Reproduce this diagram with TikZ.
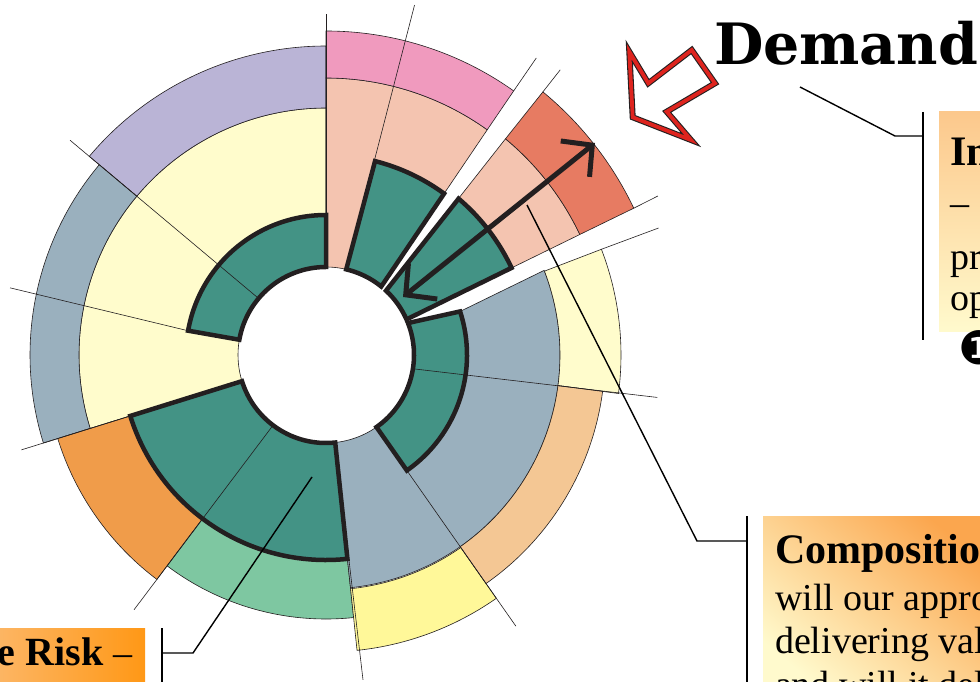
\documentclass[tikz,border=0pt]{standalone}
\usepackage{fontspec}
\setmainfont{Liberation Serif}
\newfontfamily\titlefont{DejaVu Serif}
\newfontfamily\dingfont{DejaVu Sans}
\usetikzlibrary{arrows.meta,positioning,calc}

\definecolor{ink}{RGB}{35,31,32}
\definecolor{tealseg}{RGB}{67,147,133}
\definecolor{salmonseg}{RGB}{244,196,176}
\definecolor{pinkseg}{RGB}{240,154,190}
\definecolor{redseg}{RGB}{231,123,98}
\definecolor{paleseg}{RGB}{255,252,204}
\definecolor{lilacseg}{RGB}{186,180,214}
\definecolor{slateseg}{RGB}{154,176,190}
\definecolor{peachseg}{RGB}{244,199,148}
\definecolor{lemonseg}{RGB}{255,248,153}
\definecolor{mintseg}{RGB}{126,199,161}
\definecolor{orangeseg}{RGB}{240,156,74}
\definecolor{arrowred}{RGB}{222,36,30}
\definecolor{boxtop}{RGB}{252,200,140}
\definecolor{boxpale}{RGB}{255,250,205}
\definecolor{boxorange}{RGB}{251,166,78}
\definecolor{riskorange}{RGB}{255,152,22}
\definecolor{risklight}{RGB}{252,186,112}

\newcommand{\boxhead}{\fontsize{42}{48}\selectfont\bfseries}
\newcommand{\boxbody}{\fontsize{38}{44}\selectfont}

% ring cell: inner angles #1,#2 at radius #3, outer angles #4,#5 at radius #6
\newcommand{\ringcell}[7]{%
	\filldraw[#7] (#1:#3) arc[start angle=#1, end angle=#2, radius=#3]
	-- (#5:#6) arc[start angle=#5, end angle=#4, radius=#6] -- cycle;}

\begin{document}
\begin{tikzpicture}[
		x=1pt,y=1pt,
		every node/.style={inner sep=0pt, outer sep=0pt},
		cell/.style={draw=ink, line width=0.6pt},
		tealcell/.style={fill=tealseg, draw=ink, line width=4.5pt, line join=miter},
		spoke/.style={draw=ink, line width=0.6pt},
		leader/.style={draw=black, line width=1.4pt},
		headtext/.style={font=\boxhead, anchor=base west},
		bodytext/.style={font=\boxbody, anchor=base west}
		]
		
		\useasboundingbox (0,0) rectangle (980,681);
		\fill[white] (0,0) rectangle (980,681);
		\clip (0,0) rectangle (980,681);
		
		% =========================
		% Ring chart
		% =========================
		\begin{scope}[shift={(326,326)}]
			% left part
			\ringcell{90}{197.3}{88}{90}{197.3}{247}{cell, fill=paleseg}
			\ringcell{90}{140}{247}{90}{140}{309}{cell, fill=lilacseg}
			\ringcell{140}{197.3}{247}{140}{197.3}{296}{cell, fill=slateseg}
			
			% lower part
			\ringcell{-162.7}{-127}{205}{-162.7}{-127}{281}{cell, fill=orangeseg}
			\ringcell{-127}{-84}{205}{-127}{-84}{264}{cell, fill=mintseg}
			\ringcell{-84}{-55}{235}{-84}{-55}{297}{cell, fill=lemonseg}
			
			% right part
			\filldraw[cell, fill=slateseg] (18:141) -- (21.2:234)
			arc[start angle=21.2, end angle=-84, radius=234] -- (-84:88)
			arc[start angle=-84, end angle=-55, radius=88] -- (-55:141)
			arc[start angle=-55, end angle=18, radius=141] -- cycle;
			\ringcell{21}{-7.5}{234}{21}{-7.5}{295}{cell, fill=paleseg}
			\ringcell{-7.5}{-55}{234}{-7.5}{-55}{279}{cell, fill=peachseg}
			
			% exploded slices
			\ringcell{47}{23.85}{88}{50.3}{25.4}{281}{cell, fill=salmonseg}
			\ringcell{50.3}{25.4}{281}{50.5}{25.5}{341}{cell, fill=redseg}
			\ringcell{90}{51.1}{88}{90}{54.4}{277}{cell, fill=salmonseg}
			\ringcell{90}{54.4}{277}{90}{54.6}{324}{cell, fill=pinkseg}
			
			% core cells
			\ringcell{90}{170}{88}{90}{170}{140}{tealcell}
			\ringcell{76.7}{51.1}{88}{75.8}{53.8}{200}{tealcell}
			\ringcell{47}{23.85}{88}{49.7}{25.15}{205}{tealcell}
			\ringcell{21.3}{-55}{88}{18}{-55}{141}{tealcell}
			\ringcell{-162.7}{-84}{88}{-162.7}{-84}{205}{tealcell}
			
			% spokes
			\draw[spoke] (90:88) -- (90:341);
			\draw[spoke] (76.7:88) -- (75.8:361);
			\draw[spoke] (140:88) -- (140:334);
			\draw[spoke] (170:141) -- (168:323);
			\draw[spoke] (197.3:88) -- (197.3:319);
			\draw[spoke] (-127:88) -- (-127:319);
			\draw[spoke] (-84:88) -- (-83.5:327);
			\draw[spoke] (-55:88) -- (-55:331);
			\draw[spoke] (-9:88) -- (-7.3:334);
			\draw[spoke] (54.6:324) -- (54.7:364);
			\draw[spoke] (50.5:341) -- (50.6:369);
			\draw[spoke] (25.5:341) -- (25.6:368);
			\draw[spoke] (21:295) -- (20.9:356);
		\end{scope}
		
		% double arrow across the slice
		\coordinate (spanin) at (403,384);
		\coordinate (spanout) at (595,538);
		\draw[ink, line width=5pt,
		arrows={Straight Barb[length=22pt,width=46pt]-Straight Barb[length=22pt,width=46pt]}]
		(spanin) -- (spanout);
		
		% =========================
		% Demand label and hollow arrow
		% =========================
		\node[anchor=base west, font=\titlefont\bfseries\fontsize{57}{57}\selectfont] (dm) at (714,616) {Demand};
		
		\draw[arrowred, line width=3.8pt, line join=miter,
		preaction={fill=white, draw=ink, line width=6pt}]
		(629.3,629.3) -- (648.3,597.7) -- (691.7,631) -- (715,597.7)
		-- (666.7,569.3) -- (691,541) -- (632.7,563.7) -- cycle;
		
		% =========================
		% Text boxes
		% =========================
		\node[anchor=north west, minimum width=60, minimum height=220,
		top color=boxtop, bottom color=boxpale] (imp) at (939,569) {};
		\node[headtext] (imp1) at (950,515) {In};
		\node[bodytext] (imp2) at (950,465) {–};
		\node[bodytext] (imp3) at (950,411) {pr};
		\node[bodytext] (imp4) at (950,370) {op};
		\node[anchor=west, font=\dingfont\fontsize{46}{46}\selectfont] (mark) at (958,333) {❶};
		
		\node[anchor=north west, minimum width=230, minimum height=180,
		top color=boxorange, bottom color=boxpale, shading angle=-40] (cmp) at (763,165) {};
		\node[headtext] (cmp1) at (775,118) {Compositio};
		\node[bodytext] (cmp2) at (775,71) {will our appro};
		\node[bodytext] (cmp3) at (775,28) {delivering val};
		\node[bodytext] (cmp4) at (775,-16) {and will it del};
		
		\node[anchor=north east, minimum width=170, minimum height=70,
		left color=risklight, right color=riskorange] (rsk) at (145,53) {};
		\node[anchor=base east, font=\boxbody] (rsk1) at (132,16) {\textbf{\fontsize{40}{48}\selectfont e Risk} –};
		
		% =========================
		% Leaders and brackets
		% =========================
		\coordinate (dmfoot) at (800,594);
		\coordinate (dmknee) at (895,545);
		\coordinate (impbrk) at (923,545);
		\draw[leader] (dmfoot) -- (dmknee) -- (impbrk);
		\draw[leader] (923,569) -- (923,341);
		
		\coordinate (cmpfoot) at (527,476);
		\coordinate (cmpknee) at (697,140);
		\coordinate (cmpbrk) at (747,140);
		\draw[leader] (cmpfoot) -- (cmpknee) -- (cmpbrk);
		\draw[leader] (747,165) -- (747,-5);
		
		\coordinate (rskfoot) at (312,204);
		\coordinate (rskknee) at (193,28);
		\coordinate (rskbrk) at (162,28);
		\draw[leader] (rskfoot) -- (rskknee) -- (rskbrk);
		\draw[leader] (162,53) -- (162,-5);
		
	\end{tikzpicture}
\end{document}
